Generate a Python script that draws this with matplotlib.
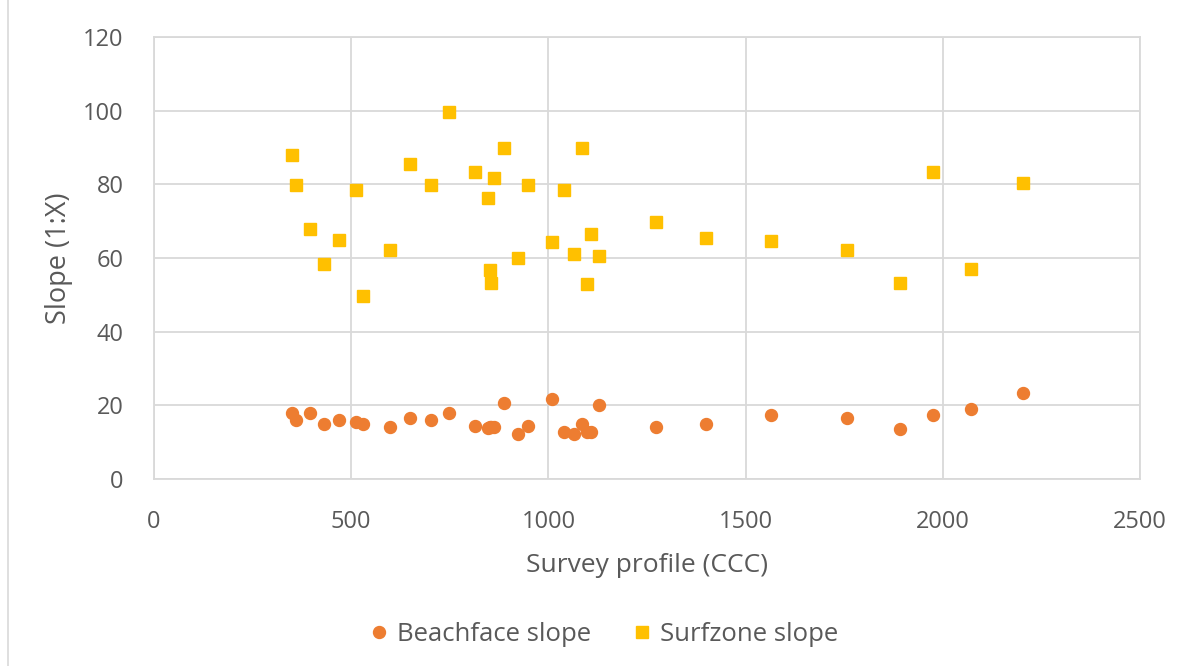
import matplotlib
matplotlib.use("Agg")
import matplotlib.pyplot as plt
from matplotlib.lines import Line2D

plt.rcParams['font.family'] = ['Open Sans', 'DejaVu Sans']

# survey profile ids (shared by both series)
profile = [350, 361, 396, 430, 469, 511, 531, 599, 650, 703, 748, 814,
           846, 851, 854, 862, 888, 922, 949, 1010, 1039, 1064, 1085, 1097,
           1108, 1127, 1273, 1400, 1565, 1756, 1891, 1974, 2072, 2203]

beachface = [18.0, 16.0, 18.0, 14.9, 16.1, 15.6, 14.9, 14.1, 16.6, 16.1,
             17.8, 14.3, 13.9, 14.0, 14.1, 14.1, 20.5, 12.3, 14.3, 21.7,
             12.8, 12.3, 14.9, 12.8, 12.8, 20.0, 14.0, 14.8, 17.4, 16.5,
             13.7, 17.4, 18.9, 23.4]

surfzone = [88.1, 79.9, 68.0, 58.3, 64.8, 78.4, 49.7, 62.3, 85.5, 79.9,
            99.7, 83.3, 76.4, 56.7, 53.3, 81.6, 89.8, 60.0, 79.9, 64.3,
            78.4, 61.1, 89.8, 52.9, 66.5, 60.6, 69.9, 65.4, 64.5, 62.3,
            53.2, 83.3, 57.1, 80.4]

grey = '#595959'
grid = '#D9D9D9'

fig = plt.figure(figsize=(11.85, 6.66), dpi=100)
ax = fig.add_axes([0.130, 0.2808, 0.832, 0.6636])

ax.plot(profile, beachface, 'o', color='#ED7D31', ms=8.6, mec='#ED7D31',
        label='Beachface slope', zorder=3)
ax.plot(profile, surfzone, 's', color='#FFC000', ms=8.2, mec='#FFC000',
        label='Surfzone slope', zorder=3)

ax.set_xlim(0, 2500)
ax.set_ylim(0, 120)
ax.set_xticks(range(0, 2501, 500))
ax.set_yticks(range(0, 121, 20))
ax.grid(True, color=grid, lw=1.3)
ax.set_axisbelow(True)
for s in ax.spines.values():
    s.set_color(grid)
    s.set_linewidth(1.3)
ax.tick_params(length=0, labelsize=17, labelcolor=grey)
ax.tick_params(axis='x', pad=22)
ax.tick_params(axis='y', pad=22)

ax.set_xlabel('Survey profile (CCC)', fontsize=19, color=grey, labelpad=14)
ax.set_ylabel('Slope (1:X)', fontsize=19.5, color=grey, labelpad=7)

fig.legend(loc='center', bbox_to_anchor=(0.507, 0.047), ncol=2,
           frameon=False, fontsize=18.5, labelcolor=grey, handletextpad=0.1,
           columnspacing=1.4, markerscale=1.0, handlelength=1.2)

# chart area edge on the left
fig.add_artist(Line2D([0.007, 0.007], [0, 1], transform=fig.transFigure,
                      color=grid, lw=1.2))

fig.savefig('out.png', dpi=100)
